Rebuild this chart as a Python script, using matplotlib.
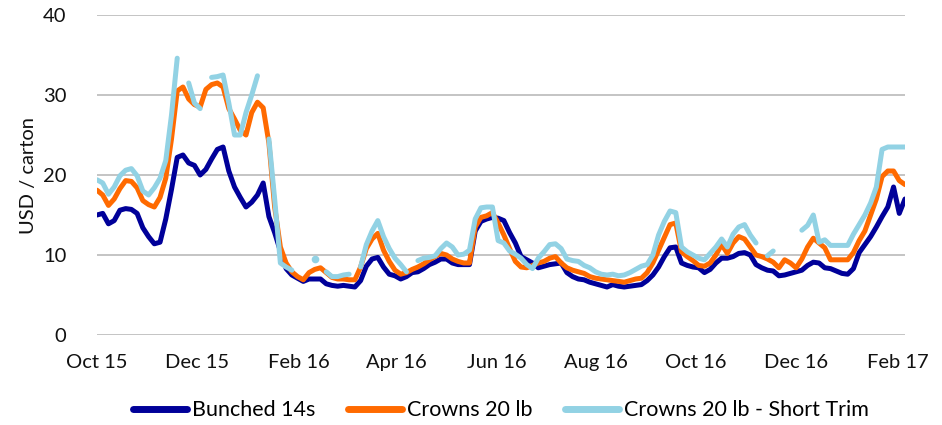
import numpy as np
import pandas as pd
import matplotlib
matplotlib.use("Agg")
import matplotlib.pyplot as plt
import matplotlib.dates as mdates

plt.rcParams['font.family'] = ['Lato', 'DejaVu Sans']

nan = np.nan
start_date = '2015-10-01'
n_points = 142
step = '84h'

bunched_14s = [
    15.0, 15.2, 13.9, 14.3, 15.6, 15.8, 15.7, 15.2, 13.4, 12.3,
    11.4, 11.6, 14.5, 18.2, 22.2, 22.5, 21.5, 21.2, 20.0, 20.7,
    22.0, 23.2, 23.5, 20.5, 18.5, 17.2, 16.0, 16.6, 17.5, 19.0,
    14.8, 12.8, 10.5, 8.3, 7.5, 7.1, 6.7, 7.0, 7.0, 7.0,
    6.4, 6.2, 6.1, 6.2, 6.1, 6.0, 6.8, 8.6, 9.5, 9.7,
    8.5, 7.6, 7.4, 7.0, 7.3, 7.8, 7.9, 8.3, 8.8, 9.1,
    9.5, 9.5, 9.0, 8.8, 8.8, 8.8, 13.0, 14.2, 14.5, 14.7,
    14.6, 14.3, 12.8, 11.5, 9.8, 9.4, 9.0, 8.4, 8.6, 8.8,
    8.9, 9.0, 7.8, 7.3, 7.0, 6.9, 6.6, 6.4, 6.2, 6.0,
    6.3, 6.1, 6.0, 6.1, 6.2, 6.3, 6.8, 7.5, 8.5, 9.8,
    10.9, 11.0, 9.0, 8.7, 8.5, 8.4, 7.8, 8.2, 9.0, 9.6,
    9.6, 9.8, 10.2, 10.3, 10.0, 8.8, 8.4, 8.1, 8.0, 7.4,
    7.5, 7.7, 7.9, 8.1, 8.7, 9.1, 9.0, 8.4, 8.3, 8.0,
    7.7, 7.6, 8.3, 10.3, 11.3, 12.3, 13.5, 14.8, 16.0, 18.5,
    15.2, 17.0,
]

crowns_20lb = [
    18.1, 17.5, 16.2, 17.0, 18.3, 19.3, 19.2, 18.4, 16.8, 16.3,
    16.0, 17.2, 19.6, 24.5, 30.5, 31.0, 29.5, 28.8, 28.5, 30.7,
    31.3, 31.5, 31.0, 28.3, 27.0, 25.6, 25.0, 27.8, 29.1, 28.4,
    24.0, 16.0, 11.0, 9.0, 7.9, 7.3, 6.9, 7.8, 8.2, 8.4,
    7.8, 7.2, 7.0, 7.0, 6.9, 6.9, 8.5, 10.8, 12.0, 12.7,
    10.6, 9.2, 8.1, 7.6, 7.8, 8.2, 8.5, 8.9, 9.4, 9.8,
    10.2, 10.0, 9.5, 9.2, 9.0, 9.0, 13.5, 14.7, 14.9, 15.3,
    14.0, 12.5, 10.8, 9.2, 8.5, 8.4, 8.7, 9.0, 9.2, 9.6,
    9.8, 9.0, 8.4, 8.1, 7.9, 7.7, 7.3, 7.1, 7.0, 6.9,
    6.8, 6.7, 6.6, 6.8, 7.0, 7.1, 7.8, 9.0, 10.6, 12.2,
    13.8, 14.0, 10.4, 9.8, 9.3, 8.7, 8.6, 9.0, 10.0, 11.3,
    10.2, 11.5, 12.3, 12.0, 11.0, 10.0, 9.8, 9.5, 9.1, 8.4,
    9.4, 9.0, 8.4, 9.5, 11.0, 12.1, 11.5, 10.9, 9.4, 9.4,
    9.4, 9.4, 10.3, 11.8, 13.0, 15.0, 17.0, 19.8, 20.5, 20.5,
    19.3, 18.8,
]

crowns_20lb_short_trim = [
    19.4, 19.0, 17.6, 18.5, 19.9, 20.6, 20.8, 19.9, 18.0, 17.5,
    18.4, 19.6, 21.8, 27.5, 34.6, nan, 31.5, 29.0, 28.3, nan,
    32.2, 32.3, 32.5, 29.0, 25.0, 25.0, 27.8, 30.0, 32.4, nan,
    24.5, 17.0, 9.0, 8.5, 8.1, nan, nan, nan, 9.5, nan,
    7.9, 7.3, 7.3, 7.5, 7.6, nan, 8.5, 11.3, 13.0, 14.3,
    12.3, 10.8, 9.6, 8.8, 7.9, nan, 9.3, 9.6, 9.7, 9.9,
    10.8, 11.5, 11.0, 10.0, 10.1, 10.6, 14.5, 15.9, 16.0, 16.0,
    11.8, 11.5, 10.5, 10.1, 9.6, 8.8, 8.3, 9.6, 10.4, 11.3,
    11.4, 10.8, 9.5, 9.3, 9.2, 8.7, 8.4, 7.9, 7.6, 7.5,
    7.6, 7.4, 7.5, 7.8, 8.2, 8.6, 8.8, 10.0, 12.5, 14.2,
    15.5, 15.3, 11.0, 10.4, 10.0, 9.6, 9.4, 10.2, 11.0, 12.0,
    11.0, 12.6, 13.5, 13.8, 12.5, 11.5, nan, 9.9, 10.5, nan,
    nan, nan, nan, 13.1, 13.7, 15.0, 11.6, 11.9, 11.2, 11.2,
    11.2, 11.2, 12.6, 13.8, 15.0, 16.5, 18.5, 23.2, 23.5, 23.5,
    23.5, 23.5,
]

series_names = ['Bunched 14s', 'Crowns 20 lb', 'Crowns 20 lb - Short Trim']
series_colors = ['#000099', '#FF6A00', '#92D2E4']
y_ticks = [0, 10, 20, 30, 40]

dates = pd.date_range(start_date, periods=n_points, freq=step)

fig = plt.figure(figsize=(9.42, 4.25), dpi=100)
ax = fig.add_axes([97/942, 90/425, 808/942, 320/425])

lw = 3.6
for vals, name, col in zip([bunched_14s, crowns_20lb, crowns_20lb_short_trim],
                           series_names, series_colors):
    arr = np.array(vals, dtype=float)
    ax.plot(dates, arr, color=col, lw=lw, label=name, solid_capstyle='round',
            solid_joinstyle='round')
    # isolated points (both neighbours missing) drawn as dots
    prev_nan = np.concatenate([[True], np.isnan(arr[:-1])])
    next_nan = np.concatenate([np.isnan(arr[1:]), [True]])
    iso = (~np.isnan(arr)) & prev_nan & next_nan
    if iso.any():
        ax.plot(dates[iso], arr[iso], 'o', color=col, ms=5.5, mec='none')

ax.set_xlim(dates[0], dates[-1])
ax.set_ylim(0, 40)
ax.set_yticks(y_ticks)
ax.yaxis.grid(True, color='#BFBFBF', lw=1.3)
ax.set_axisbelow(True)
for s in ax.spines.values():
    s.set_visible(False)

tick_dates = pd.date_range('2015-10-01', '2017-02-01', freq='2MS')
ax.set_xticks(tick_dates)
ax.xaxis.set_major_formatter(mdates.DateFormatter('%b %y'))
ax.tick_params(axis='both', length=0, labelsize=14.5, colors='#111111')
ax.tick_params(axis='x', pad=14)
ax.tick_params(axis='y', pad=22)
ax.set_ylabel('USD / carton', fontsize=14.5, color='#111111', labelpad=4)

leg = ax.legend(loc='center', bbox_to_anchor=(0.5, -0.235), ncol=3,
                frameon=False, fontsize=15.5, handlelength=2.5,
                handletextpad=0.25, columnspacing=1.5)
for h in leg.legend_handles:
    h.set_linewidth(5)

fig.savefig('out.png', dpi=100)
